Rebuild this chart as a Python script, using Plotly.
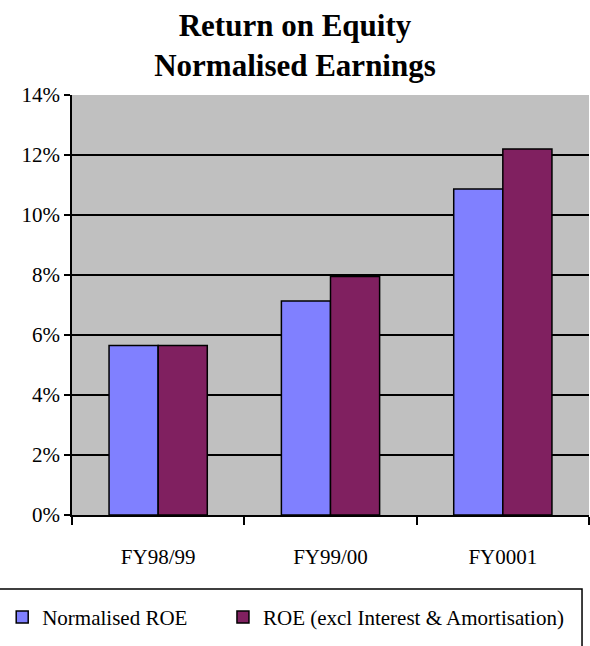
"""
Return on Equity - normalised earnings, grouped bars
"""

import plotly.graph_objects as go

YEARS = ["FY98/99", "FY99/00", "FY0001"]
NORMALISED_ROE = [5.65, 7.13, 10.87]
ROE_EXCL = [5.65, 7.95, 12.20]
Y_TICKS = list(range(0, 15, 2))
Y_LABELS = [f"{v}%" for v in Y_TICKS]

SERIF = "Liberation Serif, Times New Roman, serif"

fig = go.Figure()
fig.add_trace(go.Bar(
    x=YEARS, y=NORMALISED_ROE,
    name="Normalised ROE",
    marker=dict(color="#8080FF", line=dict(color="black", width=1.5)),
    legend="legend",
))
fig.add_trace(go.Bar(
    x=YEARS, y=ROE_EXCL,
    name="ROE (excl Interest & Amortisation)",
    marker=dict(color="#802060", line=dict(color="black", width=1.5)),
    legend="legend2",
))

# legend frame: open at the bottom and left, like the original
fig.add_shape(
    type="rect", xref="paper", yref="paper",
    x0=-0.2, x1=0.9865, y0=-0.176, y1=-0.5,
    line=dict(color="black", width=1.5),
    fillcolor="rgba(0,0,0,0)",
)

legend_style = dict(
    orientation="h",
    y=-0.195, yanchor="top", xanchor="left",
    borderwidth=0,
    bgcolor="rgba(0,0,0,0)",
    font=dict(family=SERIF, size=21),
    itemwidth=30,
)

fig.update_layout(
    width=590, height=646,
    margin=dict(l=72, r=1, t=95, b=131, autoexpand=False),
    paper_bgcolor="white",
    plot_bgcolor="#C0C0C0",
    barmode="group",
    bargap=0.43,
    bargroupgap=0,
    font=dict(family=SERIF, color="black", size=21),
    title=dict(
        text="<b>Return on Equity<br>Normalised Earnings</b>",
        x=0.5, xref="container", xanchor="center",
        y=0.945, yref="container", yanchor="top",
        font=dict(family=SERIF, size=31, color="black"),
    ),
    legend=dict(x=-0.135, **legend_style),
    legend2=dict(x=0.292, **legend_style),
    showlegend=True,
)
fig.update_xaxes(
    showline=True, linecolor="black", linewidth=1.5,
    ticks="outside", tickson="boundaries", ticklen=8, tickwidth=1.5, tickcolor="black",
    ticklabelstandoff=22,
    showgrid=False,
)
fig.update_yaxes(
    range=[0, 14],
    tickvals=Y_TICKS, ticktext=Y_LABELS,
    showline=True, linecolor="black", linewidth=1.5,
    ticks="outside", ticklen=6, tickwidth=1.5, tickcolor="black",
    showgrid=True, gridcolor="black", gridwidth=1.5,
    zeroline=False,
)

# page body has an 8px default margin; drop it so the figure fills the window
fig.write_html(
    "out.html",
    config={"displayModeBar": False},
    post_script="document.body.style.margin='0';",
)
